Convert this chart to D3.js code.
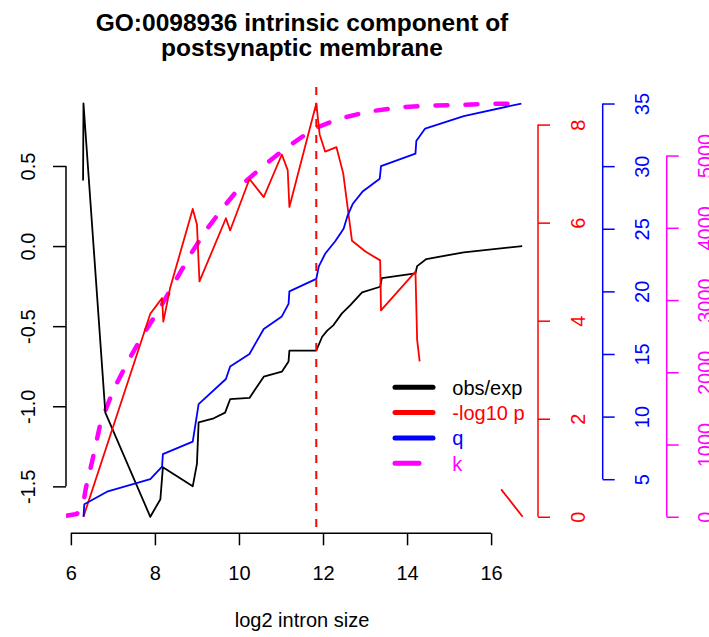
<!DOCTYPE html>
<html><head><meta charset="utf-8">
<script src="https://cdn.jsdelivr.net/npm/d3@7"></script>
<style>
html,body{margin:0;padding:0;background:#fff;}
svg{display:block;font-family:"Liberation Sans",Arial,Helvetica,sans-serif;}
</style></head>
<body>
<script>
// ---- data ----
const titleLines = ["GO:0098936 intrinsic component of", "postsynaptic membrane"];
const xLabel = "log2 intron size";

const obsX = [6.29, 6.30, 6.82, 7.89, 8.13, 8.19, 8.90, 9.00, 9.04, 9.40, 9.67, 9.79, 10.25, 10.59, 11.02, 11.18, 11.20, 11.84, 11.98, 12.10, 12.25, 12.45, 12.65, 12.93, 13.36, 13.40, 14.20, 14.24, 14.46, 15.35, 16.74];
const obsY = [0.41, 0.89, -1.04, -1.69, -1.58, -1.38, -1.50, -1.36, -1.10, -1.075, -1.04, -0.956, -0.948, -0.815, -0.784, -0.72, -0.653, -0.652, -0.566, -0.528, -0.493, -0.42, -0.368, -0.289, -0.254, -0.20, -0.17, -0.125, -0.081, -0.039, 0.0];

const pX = [6.30, 7.89, 8.17, 8.20, 8.36, 8.90, 9.00, 9.06, 9.69, 9.79, 10.25, 10.59, 11.02, 11.16, 11.20, 11.84, 11.92, 12.05, 12.32, 12.48, 12.69, 13.01, 13.36, 13.38, 14.20, 14.24, 14.30, 15.35, 16.24, 16.75];
const pY = [0, 4.14, 4.46, 3.98, 4.66, 6.28, 5.96, 4.80, 6.09, 5.84, 6.89, 6.52, 7.39, 7.07, 6.32, 8.43, 7.80, 7.45, 7.54, 7.01, 5.63, 5.41, 5.23, 4.21, 5.00, 3.61, 3.17, null, 0.56, 0];

const qX = [6.30, 6.32, 6.86, 7.89, 8.17, 8.19, 8.90, 9.04, 9.69, 9.79, 10.25, 10.59, 11.02, 11.18, 11.20, 11.84, 11.90, 12.05, 12.29, 12.49, 12.58, 12.71, 12.95, 13.35, 13.38, 14.20, 14.22, 14.43, 15.35, 16.72];
const qY = [2, 3, 4, 5, 6, 7, 8, 11, 13, 14, 15, 17, 18, 19, 20, 21, 22, 23, 24, 25, 26, 27, 28, 29, 30, 31, 32, 33, 34, 35];

const kX = [5.88, 6.14, 6.29, 6.36, 6.51, 6.70, 7.01, 7.41, 7.73, 8.13, 8.56, 8.88, 9.24, 9.63, 10.07, 10.59, 11.14, 11.78, 12.37, 13.09, 13.84, 14.60, 15.27, 16.02, 16.78];
const kY = [14, 37, 176, 406, 776, 1284, 1755, 2206, 2530, 2899, 3338, 3661, 3985, 4284, 4598, 4861, 5115, 5370, 5508, 5609, 5669, 5692, 5702, 5716, 5716];

const cutoffX = 11.84;

const xTicks = [6, 8, 10, 12, 14, 16];
const obsTicks = [-1.5, -1.0, -0.5, 0.0, 0.5];
const pTicks = [0, 2, 4, 6, 8];
const qTicks = [5, 10, 15, 20, 25, 30, 35];
const kTicks = [0, 1000, 2000, 3000, 4000, 5000];

const legendLabels = ["obs/exp", "-log10 p", "q", "k"];
const legendColors = ["#000000", "#ff0000", "#0000ff", "#ff00ff"];

// ---- layout ----
const W = 709, H = 637;
const L = 66, R = 538, T = 87, B = 533.3;

const svg = d3.select("body").append("svg").attr("width", W).attr("height", H);

const x = d3.scaleLinear().domain([5.884, 17.116]).range([L, R]);
const yObs = d3.scaleLinear().domain([-1.793, 0.993]).range([B, T]);
const yP = d3.scaleLinear().domain([-0.337, 8.767]).range([B, T]);
const yQ = d3.scaleLinear().domain([0.68, 36.32]).range([B, T]);
const yK = d3.scaleLinear().domain([-229, 5949]).range([B, T]);

svg.append("defs").append("clipPath").attr("id", "plotclip")
  .append("rect").attr("x", L).attr("y", T).attr("width", R - L).attr("height", B - T);

const g = svg.append("g").attr("clip-path", "url(#plotclip)");

function drawSeries(xs, ys, yScale, color, width, dash) {
  const pts = xs.map((v, i) => [v, ys[i]]);
  const line = d3.line().defined(d => d[1] !== null).x(d => x(d[0])).y(d => yScale(d[1]));
  const p = g.append("path").datum(pts).attr("d", line)
    .attr("fill", "none").attr("stroke", color).attr("stroke-width", width)
    .attr("stroke-linejoin", "round").attr("stroke-linecap", dash ? "round" : "butt");
  if (dash) p.attr("stroke-dasharray", dash);
}

drawSeries(kX, kY, yK, "#ff00ff", 4.5, "12 18");
drawSeries(obsX, obsY, yObs, "#000000", 1.8);
drawSeries(pX, pY, yP, "#ff0000", 1.8);
drawSeries(qX, qY, yQ, "#0000ff", 1.8);

g.append("line").attr("x1", x(cutoffX)).attr("x2", x(cutoffX)).attr("y1", T).attr("y2", B)
  .attr("stroke", "#ff0000").attr("stroke-width", 2).attr("stroke-dasharray", "8 8");

// ---- axes ----
const fs = 20;
function styleAxis(sel, color) {
  sel.selectAll("path").attr("stroke", color).attr("stroke-width", 1.5);
  sel.selectAll("line").attr("stroke", color).attr("stroke-width", 1.5);
  sel.selectAll("text").attr("fill", color).style("font-size", fs + "px")
    .style("font-family", "'Liberation Sans', Arial, Helvetica, sans-serif");
}

// bottom
const ax = svg.append("g").attr("transform", `translate(0,${B})`)
  .call(d3.axisBottom(x).tickValues(xTicks).tickFormat(d3.format("d")).tickSize(12).tickSizeOuter(0).tickPadding(22));
styleAxis(ax, "#000");
ax.select("path").attr("d", `M${x(xTicks[0])},0H${x(xTicks[xTicks.length - 1])}`);
ax.selectAll("text").attr("dy", null).attr("y", 47);

// left
const ay = svg.append("g").attr("transform", `translate(${L},0)`)
  .call(d3.axisLeft(yObs).tickValues(obsTicks).tickFormat(d3.format(".1f")).tickSize(13).tickSizeOuter(0));
styleAxis(ay, "#000");
ay.select("path").attr("d", `M0,${yObs(obsTicks[0])}V${yObs(obsTicks[obsTicks.length - 1])}`);
ay.selectAll("text").attr("x", null).attr("dy", null).attr("text-anchor", "middle")
  .attr("transform", `translate(${35 - L},0) rotate(-90)`).attr("y", 0).text(d => d3.format(".1f")(d).replace("\u2212", "-"));

// right axes
function rightAxis(scale, ticks, xpos, color, labelBase) {
  const a = svg.append("g").attr("transform", `translate(${xpos},0)`)
    .call(d3.axisRight(scale).tickValues(ticks).tickFormat(d3.format("d")).tickSize(12).tickSizeOuter(0));
  styleAxis(a, color);
  a.select("path").attr("d", `M0,${scale(ticks[0])}V${scale(ticks[ticks.length - 1])}`);
  a.selectAll("text").attr("x", null).attr("dy", null).attr("text-anchor", "middle")
    .attr("transform", `translate(${labelBase - xpos},0) rotate(-90)`).attr("y", 0);
}
rightAxis(yP, pTicks, R, "#ff0000", 585);
rightAxis(yQ, qTicks, 602.7, "#0000ff", 648.5);
rightAxis(yK, kTicks, 666.7, "#ff00ff", 711.5);

// x label
svg.append("text").attr("x", (L + R) / 2).attr("y", 627).attr("text-anchor", "middle")
  .style("font-size", fs + "px").text(xLabel);

// title
titleLines.forEach((t, i) => {
  svg.append("text").attr("x", (L + R) / 2).attr("y", 30.5 + i * 25.5).attr("text-anchor", "middle")
    .style("font-size", "24.5px").style("font-weight", "bold").text(t);
});

// legend
const lg = svg.append("g");
legendLabels.forEach((lab, i) => {
  const yy = 387.3 + i * 25.3;
  const isK = i === 3;
  lg.append("line").attr("x1", 395).attr("x2", isK ? 419 : 433).attr("y1", yy).attr("y2", yy)
    .attr("stroke", legendColors[i]).attr("stroke-width", 5).attr("stroke-linecap", "round");
  lg.append("text").attr("x", 452.3).attr("y", yy + 7.5).attr("fill", legendColors[i])
    .style("font-size", fs + "px").text(lab);
});
</script>
</body></html>
